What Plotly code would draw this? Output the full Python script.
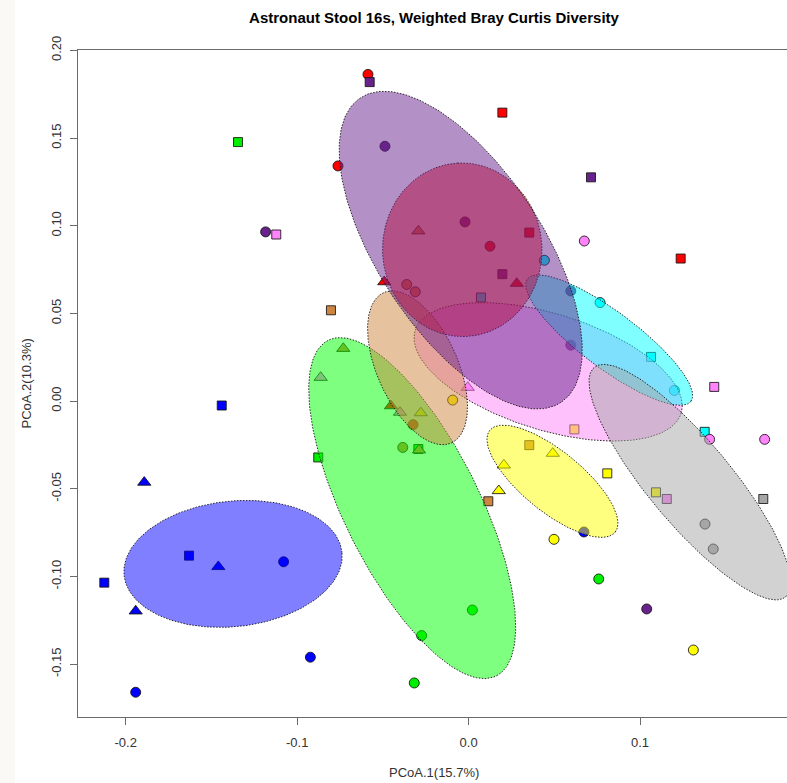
import numpy as np
import plotly.graph_objects as go

# ---- sample ordination scores (PCoA axis 1 / axis 2) ----
PT_X = [
    -0.1440, -0.1892, -0.1631, -0.1460, -0.1079, -0.2125, -0.1942, -0.0923, -0.1942, 0.0673,
    -0.1345, -0.0877, -0.0293, 0.0022, -0.0274, -0.0317, 0.0759,
    -0.0587, -0.0762, 0.0197, 0.1237, -0.0492, 0.0125, 0.0281, 0.0354, -0.0324, -0.0453,
    -0.0803, 0.0354, 0.0115, -0.0731, -0.0384, -0.0289, -0.0293, -0.0361, -0.0311,
    -0.0577, -0.0488, -0.1184, 0.0714, -0.0021, 0.0197, 0.1039, 0.0596, 0.0596,
    0.0442, 0.0767, 0.1064, 0.1200, 0.1377, 0.0072,
    -0.1122, 0.0675, 0.1433, 0.1406, 0.1727, -0.0005, 0.1156, -0.0863, -0.0400,
    -0.0093, 0.0617, 0.0491, 0.0206, 0.0176, 0.0809, 0.0498, 0.1311, 0.1093, -0.0279,
    0.1379, 0.1427, 0.1719,
]
PT_Y = [
    -0.0025, -0.0463, -0.0881, -0.0944, -0.0916, -0.1035, -0.1197, -0.1460, -0.1660, -0.0746,
    0.1477, -0.0321, -0.0273, -0.1191, -0.1337, -0.1607, -0.1014,
    0.1863, 0.1341, 0.1645, 0.0813, 0.0680, 0.0883, 0.0671, 0.0961, -0.0134, -0.0027,
    0.0518, -0.0251, -0.0571, 0.0300, -0.0264, -0.0279, 0.0970, 0.0665, 0.0623,
    0.1819, 0.1453, 0.0965, 0.1276, 0.1022, 0.0724, -0.1185, 0.0319, 0.0628,
    0.0803, 0.0562, 0.0252, 0.0061, -0.0175, 0.0591,
    0.0950, 0.0913, 0.0081, -0.0218, -0.0218, 0.0078, -0.0558, 0.0135, -0.0064,
    0.0006, -0.0161, -0.0298, -0.0365, -0.0511, -0.0412, -0.0788, -0.1419, -0.0520, -0.0067,
    -0.0701, -0.0843, -0.0558,
]
# c = circle, s = square, t = triangle
PT_SHAPE = [
    "s", "t", "s", "t", "c", "s", "t", "c", "c", "c",
    "s", "s", "s", "c", "c", "c", "c",
    "c", "c", "s", "s", "t", "c", "t", "s", "c", "t",
    "s", "s", "s", "t", "c", "t", "t", "c", "c",
    "s", "c", "c", "s", "c", "s", "c", "c", "c",
    "c", "c", "s", "c", "s", "s",
    "s", "c", "s", "c", "c", "t", "s", "t", "t",
    "c", "s", "t", "t", "t", "s", "c", "c", "s", "t",
    "c", "c", "s",
]
PT_GROUP = (
    ["blue"] * 10 + ["green"] * 7 + ["red"] * 10 + ["peru"] * 9 + ["purple"] * 9
    + ["cyan"] * 6 + ["pink"] * 9 + ["yellow"] * 10 + ["gray"] * 3
)

GROUP_RGB = {
    "blue": (0, 0, 255),
    "green": (0, 238, 0),
    "red": (255, 0, 0),
    "peru": (205, 133, 63),
    "purple": (104, 34, 139),
    "cyan": (0, 255, 255),
    "pink": (255, 131, 250),
    "yellow": (255, 255, 0),
    "gray": (166, 166, 166),
}
ELLIPSE_RGB = dict(GROUP_RGB, green=(0, 255, 0))

# ---- confidence ellipses, listed in drawing order ----
ELL_GROUP = ["blue", "green", "pink", "cyan", "peru", "red", "purple", "yellow", "gray"]
ELL_CX = [-0.1374, -0.0329, 0.0464, 0.0820, -0.0298, -0.0037, -0.0046, 0.0489, 0.1291]
ELL_CY = [-0.0928, -0.0610, 0.0167, 0.0348, 0.0190, 0.0863, 0.0861, -0.0457, -0.0462]
ELL_A = [0.0639, 0.1075, 0.0811, 0.0591, 0.0472, 0.0495, 0.1047, 0.0467, 0.0860]
ELL_B = [0.0358, 0.0392, 0.0332, 0.0162, 0.0234, 0.0465, 0.0476, 0.0174, 0.0240]
ELL_ANGLE = [5.8, -62.7, -16.8, -36.1, -64.9, 93.0, -55.7, -38.3, -49.4]

X_TICKS = [-0.2, -0.1, 0.0, 0.1]
X_TICK_LABELS = ["-0.2", "-0.1", "0.0", "0.1"]
Y_TICKS = [-0.15, -0.10, -0.05, 0.00, 0.05, 0.10, 0.15, 0.20]
Y_TICK_LABELS = ["-0.15", "-0.10", "-0.05", "0.00", "0.05", "0.10", "0.15", "0.20"]

TITLE = "Astronaut Stool 16s, Weighted Bray Curtis Diversity"
X_LABEL = "PCoA.1(15.7%)"
Y_LABEL = "PCoA.2(10.3%)"

FONT = "Liberation Sans, Arial, sans-serif"
SYMBOLS = {"c": "circle", "s": "square", "t": "triangle-up"}
SIZES = {"c": 10, "s": 9, "t": 11.5}


def rgb(c, a=None):
    if a is None:
        return "rgb(%d,%d,%d)" % c
    return "rgba(%d,%d,%d,%.2f)" % (c[0], c[1], c[2], a)


fig = go.Figure()

# points go underneath the translucent ellipses
fig.add_trace(go.Scatter(
    x=PT_X, y=PT_Y, mode="markers", showlegend=False, hoverinfo="skip",
    marker=dict(
        symbol=[SYMBOLS[s] for s in PT_SHAPE],
        size=[SIZES[s] for s in PT_SHAPE],
        color=[rgb(GROUP_RGB[g]) for g in PT_GROUP],
        opacity=1,
        line=dict(color="rgba(20,20,20,0.85)", width=1),
    ),
))

t = np.linspace(0, 2 * np.pi, 241)
for g, cx, cy, a, b, ang in zip(ELL_GROUP, ELL_CX, ELL_CY, ELL_A, ELL_B, ELL_ANGLE):
    th = np.deg2rad(ang)
    ex = cx + a * np.cos(t) * np.cos(th) - b * np.sin(t) * np.sin(th)
    ey = cy + a * np.cos(t) * np.sin(th) + b * np.sin(t) * np.cos(th)
    fig.add_trace(go.Scatter(
        x=ex, y=ey, mode="lines", fill="toself", showlegend=False, hoverinfo="skip",
        fillcolor=rgb(ELLIPSE_RGB[g], 0.5),
        line=dict(color="rgba(20,20,20,0.9)", width=1, dash="1.5px,1.5px"),
    ))

axis_common = dict(
    showgrid=False, zeroline=False, showline=True, linecolor="#6a6a6a", linewidth=1,
    ticks="outside", ticklen=7, tickcolor="#6a6a6a", tickwidth=1,
    tickfont=dict(family=FONT, size=13, color="#333333"),
)

fig.update_layout(
    width=787, height=783,
    margin=dict(l=78, r=0, t=50, b=66),
    paper_bgcolor="white", plot_bgcolor="white",
    title=dict(text="<b>%s</b>" % TITLE, x=434 / 787, xref="container", xanchor="center",
               y=1 - 18 / 783, yref="container", yanchor="middle",
               font=dict(family=FONT, size=15, color="#000000")),
    xaxis=dict(axis_common, range=[-0.22785, 0.18573], mirror=True,
               tickvals=X_TICKS, ticktext=X_TICK_LABELS, ticklabelstandoff=6),
    yaxis=dict(axis_common, range=[-0.1801, 0.2002], mirror=False,
               tickvals=Y_TICKS, ticktext=Y_TICK_LABELS, tickangle=-90, ticklabelstandoff=4),
    annotations=[
        dict(text=X_LABEL, xref="paper", yref="paper", x=(434.3 - 78) / 709, y=(717 - 772) / 667,
             showarrow=False, xanchor="center", yanchor="middle",
             font=dict(family=FONT, size=13, color="#333333")),
        dict(text=Y_LABEL, xref="paper", yref="paper", x=(26 - 78) / 709, y=(717 - 383.5) / 667,
             showarrow=False, xanchor="center", yanchor="middle", textangle=-90,
             font=dict(family=FONT, size=13, color="#333333")),
    ],
    shapes=[dict(type="rect", xref="paper", yref="paper", x0=(0 - 78) / 709, x1=(15 - 78) / 709,
                 y0=(717 - 783) / 667, y1=(717 - 0) / 667, fillcolor="#faf9f6",
                 line=dict(width=0), layer="below")],
)

fig.write_html("out.html")
